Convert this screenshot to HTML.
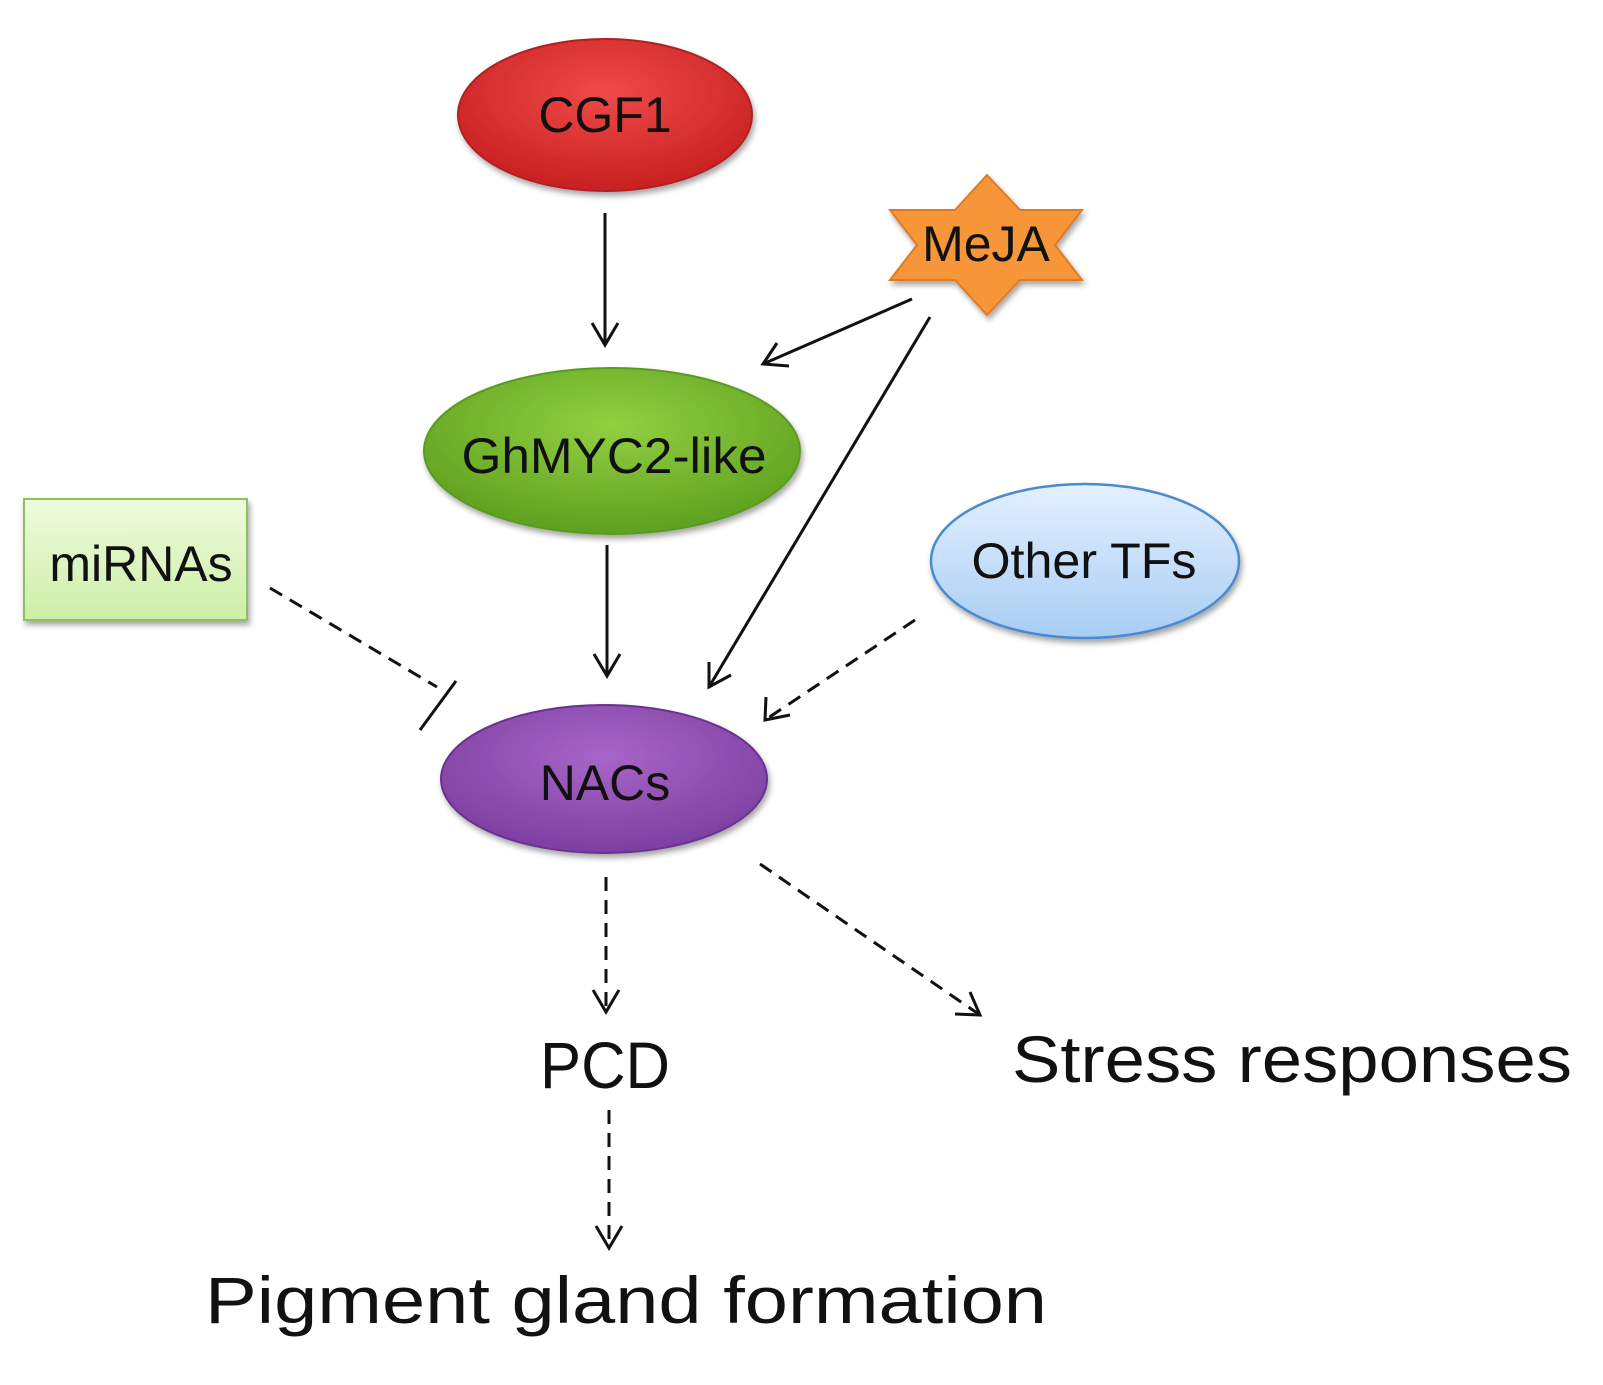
<!DOCTYPE html>
<html><head><style>html,body{margin:0;padding:0;background:#fff}</style></head>
<body>
<svg width="1603" height="1380" viewBox="0 0 1603 1380" xmlns="http://www.w3.org/2000/svg" font-family="Liberation Sans, DejaVu Sans, sans-serif">
<defs>
<radialGradient id="gr" cx="50%" cy="35%" r="65%"><stop offset="0" stop-color="#ee4a48"/><stop offset="1" stop-color="#c82020"/></radialGradient>
<radialGradient id="gg" cx="50%" cy="35%" r="65%"><stop offset="0" stop-color="#92d040"/><stop offset="1" stop-color="#5ea020"/></radialGradient>
<radialGradient id="gp" cx="50%" cy="35%" r="65%"><stop offset="0" stop-color="#a865c8"/><stop offset="1" stop-color="#7c3fa0"/></radialGradient>
<linearGradient id="gb" x1="0" y1="0" x2="0" y2="1"><stop offset="0" stop-color="#e4f0ff"/><stop offset="1" stop-color="#a8cdf4"/></linearGradient>
<linearGradient id="gm" x1="0" y1="0" x2="0" y2="1"><stop offset="0" stop-color="#eefbdc"/><stop offset="1" stop-color="#cdeea8"/></linearGradient>
<filter id="sh"><feDropShadow dx="2" dy="4" stdDeviation="3" flood-opacity="0.35"/></filter>
</defs>
<g filter="url(#sh)">
<ellipse cx="605" cy="115" rx="147" ry="76" fill="url(#gr)" stroke="#b02020" stroke-width="2"/>
<ellipse cx="612" cy="451" rx="188" ry="83" fill="url(#gg)" stroke="#5a9a20" stroke-width="2"/>
<ellipse cx="604" cy="779" rx="163" ry="74" fill="url(#gp)" stroke="#6a3090" stroke-width="2"/>
<ellipse cx="1085" cy="561" rx="154" ry="77" fill="url(#gb)" stroke="#4a8ad0" stroke-width="2.5"/>
<rect x="24" y="499" width="223" height="121" fill="url(#gm)" stroke="#8cc060" stroke-width="2"/>
<polygon points="987,175 1020,210 1082,210 1055,245 1082,280 1020,280 987,315 955,280 890,280 917,245 890,210 955,210" fill="#f79639" stroke="#e07a20" stroke-width="2"/>
</g>
<g font-size="50" fill="#111" text-anchor="middle">
<text x="605" y="132">CGF1</text>
<text x="614" y="473" textLength="305" lengthAdjust="spacingAndGlyphs">GhMYC2-like</text>
<text x="605" y="800">NACs</text>
<text x="1084" y="578" textLength="225" lengthAdjust="spacingAndGlyphs">Other TFs</text>
<text x="141" y="581">miRNAs</text>
<text x="986" y="261">MeJA</text>
</g>
<g font-size="66" fill="#111">
<text x="540" y="1088" textLength="130" lengthAdjust="spacingAndGlyphs">PCD</text>
<text x="1012" y="1082" textLength="560" lengthAdjust="spacingAndGlyphs">Stress responses</text>
<text x="205" y="1323" textLength="842" lengthAdjust="spacingAndGlyphs">Pigment gland formation</text>
</g>
<g stroke="#111" stroke-width="3" fill="none">
<line x1="605" y1="213" x2="605" y2="345"/><polyline points="592,323 605,345 618,323"/>
<line x1="912" y1="299" x2="763" y2="364"/><polyline points="777,343 763,364 789,366"/>
<line x1="930" y1="317" x2="709" y2="687"/><polyline points="709,662 709,687 731,675"/>
<line x1="607" y1="545" x2="607" y2="676"/><polyline points="594,654 607,676 620,654"/>
<g stroke-dasharray="14,9">
<line x1="270" y1="588" x2="437" y2="687"/>
<line x1="915" y1="620" x2="765" y2="720"/>
<line x1="606" y1="877" x2="606" y2="1010"/>
<line x1="760" y1="864" x2="980" y2="1015"/>
<line x1="609" y1="1110" x2="609" y2="1246"/>
</g>
<line x1="420" y1="730" x2="456" y2="681"/>
<polyline points="766,697 765,720 790,715"/>
<polyline points="593,990 606,1012 619,990"/>
<polyline points="955,1014 980,1015 970,992"/>
<polyline points="596,1226 609,1248 622,1226"/>
</g>
</svg>
</body></html>
